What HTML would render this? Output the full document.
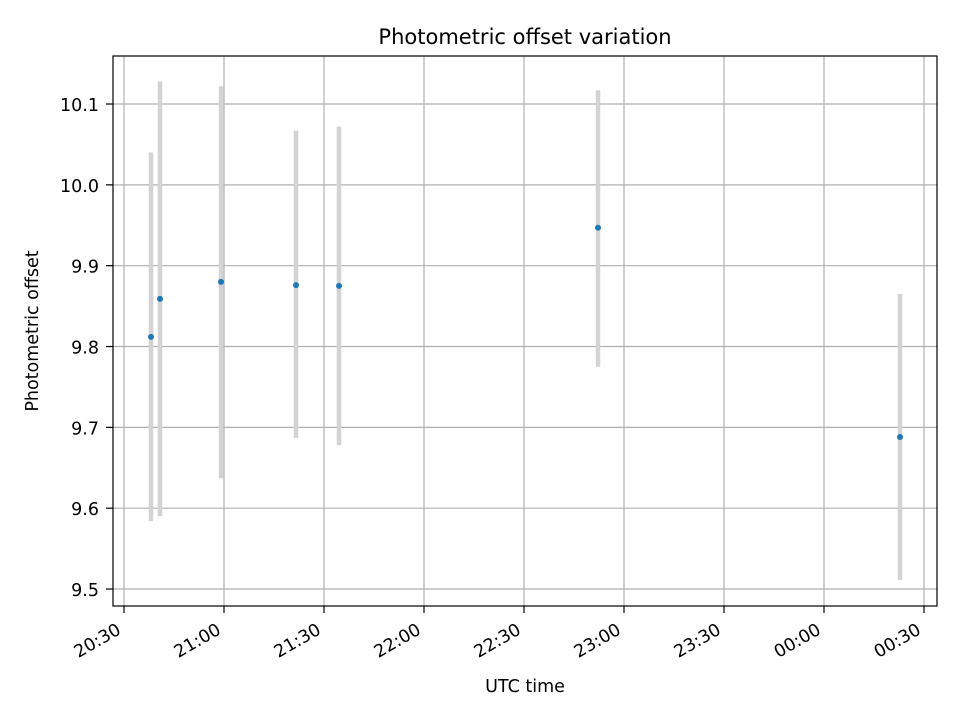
<!DOCTYPE html>
<html><head><meta charset="utf-8">
<style>
body{margin:0;background:#fff;}
svg{display:block;font-family:"DejaVu Sans","Liberation Sans",sans-serif;}
</style></head>
<body>
<svg id="chart" width="960" height="720" viewBox="0 0 960 720">
<rect x="0" y="0" width="960" height="720" fill="#fff"/>
<g id="grid"></g>
<g id="marks"></g>
<rect x="113" y="56" width="824" height="550" fill="none" stroke="#000" stroke-width="1.2"/>
<g id="axes"></g>
<text x="525" y="44" font-size="21" text-anchor="middle">Photometric offset variation</text>
<text x="525" y="692" font-size="17.5" text-anchor="middle">UTC time</text>
<text x="38" y="331" font-size="17.5" text-anchor="middle" transform="rotate(-90 38 331)">Photometric offset</text>
</svg>
<script>
// minutes after 20:30 UTC
const times = [8.1, 10.8, 29.1, 51.6, 64.5, 142.2, 232.8];
const offsets = [9.812, 9.859, 9.880, 9.876, 9.875, 9.947, 9.688];
const errLow = [9.584, 9.590, 9.637, 9.687, 9.678, 9.775, 9.511];
const errHigh = [10.040, 10.128, 10.122, 10.067, 10.072, 10.117, 9.865];
const yTicks = [9.5, 9.6, 9.7, 9.8, 9.9, 10.0, 10.1];
const yTickLabels = ["9.5","9.6","9.7","9.8","9.9","10.0","10.1"];
const xTicks = [0, 30, 60, 90, 120, 150, 180, 210, 240];
const xTickLabels = ["20:30","21:00","21:30","22:00","22:30","23:00","23:30","00:00","00:30"];

const L=113,R=937,T=56,B=606;
const xMin=-3.3,xMax=243.9,yMin=9.4790,yMax=10.1594;
const sx=v=>L+(v-xMin)/(xMax-xMin)*(R-L);
const sy=v=>B-(v-yMin)/(yMax-yMin)*(B-T);
const NS="http://www.w3.org/2000/svg";
function mk(tag,attrs,parent){const e=document.createElementNS(NS,tag);for(const k in attrs)e.setAttribute(k,attrs[k]);parent.appendChild(e);return e;}
const grid=document.getElementById('grid'),axes=document.getElementById('axes'),marks=document.getElementById('marks');

yTicks.forEach((v,i)=>{
  const y=sy(v);
  const g=mk('line',{x1:L,x2:R,y1:y,y2:y,stroke:'#b0b0b0','stroke-width':1.2},grid);
  
  
  const t=mk('line',{x1:L-7,x2:L,y1:y,y2:y,stroke:'#000','stroke-width':1.2},axes);
  
  
  const lb=mk('text',{x:L-14,y:y+7,'font-size':17.5,'text-anchor':'end'},axes);
  lb.textContent=yTickLabels[i];
  
  
});
xTicks.forEach((v,i)=>{
  const x=sx(v);
  const g=mk('line',{x1:x,x2:x,y1:T,y2:B,stroke:'#b0b0b0','stroke-width':1.2},grid);
  
  
  const t=mk('line',{x1:x,x2:x,y1:B,y2:B+7,stroke:'#000','stroke-width':1.2},axes);
  
  
  const ax=x-2, ay=B+27;
  const lb=mk('text',{x:ax,y:ay,'font-size':17.5,'text-anchor':'end',transform:`rotate(-30 ${ax} ${ay})`},axes);
  lb.textContent=xTickLabels[i];
  
  
});
times.forEach((t,i)=>{
  const x=sx(t);
  const e=mk('line',{x1:x,x2:x,y1:sy(errHigh[i]),y2:sy(errLow[i]),stroke:'#d3d3d3','stroke-width':4.5},marks);
  
  
});
times.forEach((t,i)=>{
  const p=mk('circle',{cx:sx(t),cy:sy(offsets[i]),r:3,fill:'#1f77b4'},marks);
  
  
});
</script>
</body></html>
